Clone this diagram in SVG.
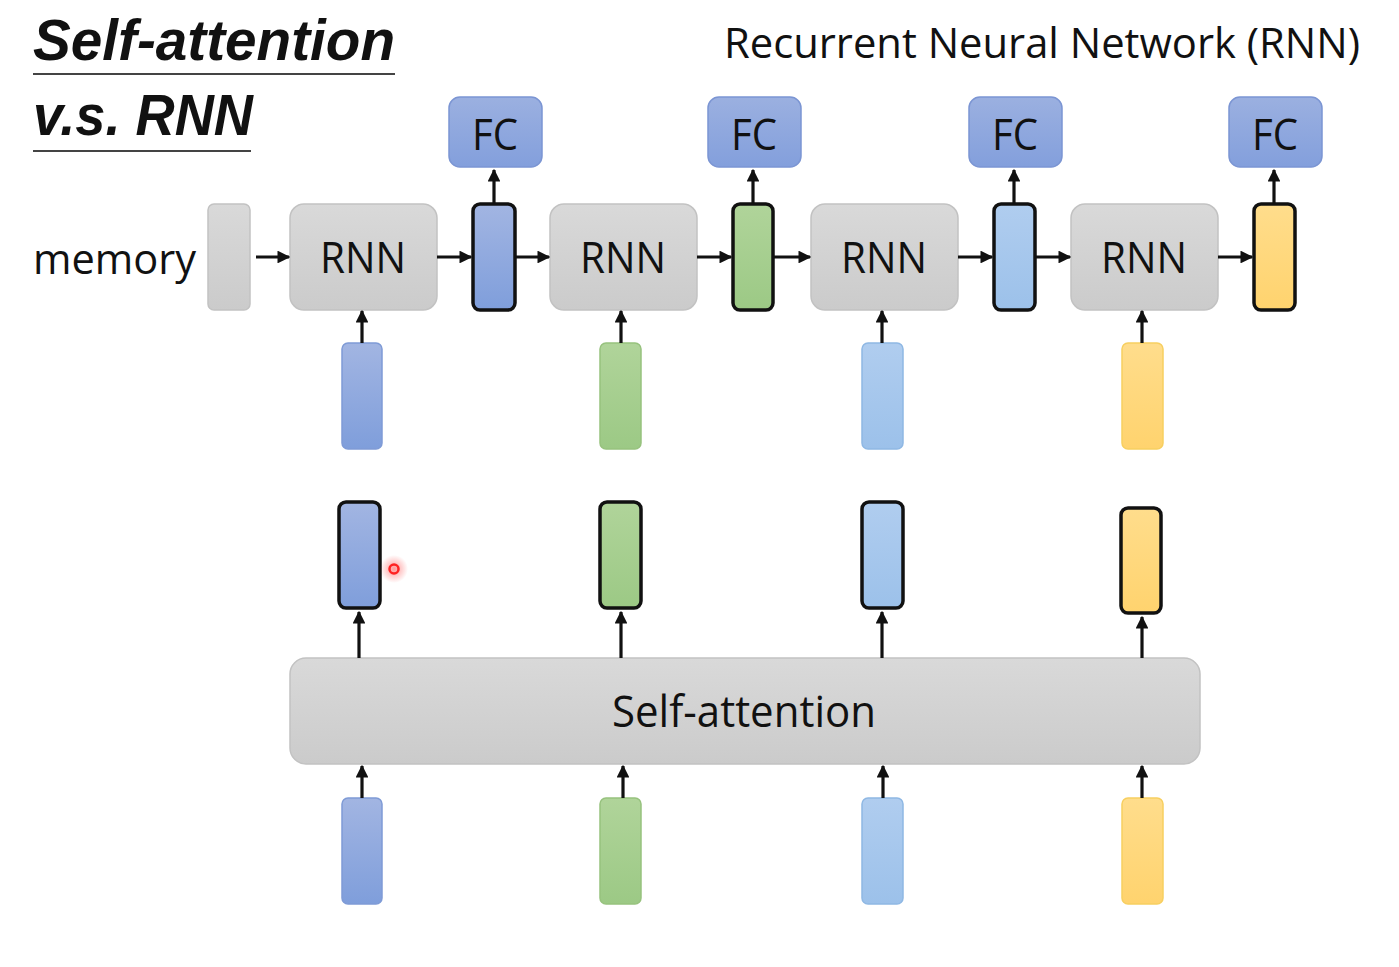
<svg xmlns="http://www.w3.org/2000/svg" width="1399" height="967" viewBox="0 0 1399 967">
<style>
text{font-family:"Open Sans","Liberation Sans",sans-serif;fill:#111;}
.lbl{font-size:44px;text-anchor:middle;}
.gray{fill:url(#gGray);stroke:#c2c2c2;stroke-width:1.5;}
.fc{fill:url(#gFC);stroke:#7b95d3;stroke-width:1.5;}
.blue{fill:url(#gBlue);stroke:#7f9bd6;stroke-width:1.5;}
.green{fill:url(#gGreen);stroke:#97c27e;stroke-width:1.5;}
.lblue{fill:url(#gLBlue);stroke:#8fb8e4;stroke-width:1.5;}
.yellow{fill:url(#gYellow);stroke:#f7cf60;stroke-width:1.5;}
.out{stroke:#111;stroke-width:3.5;}
.arr{stroke:#111;stroke-width:3.2;fill:none;marker-end:url(#ah);}
</style>
<defs>
<linearGradient id="gGray" x1="0" y1="0" x2="0" y2="1"><stop offset="0" stop-color="#d9d9d9"/><stop offset="1" stop-color="#cbcbcb"/></linearGradient>
<linearGradient id="gFC" x1="0" y1="0" x2="0" y2="1"><stop offset="0" stop-color="#9bb0e0"/><stop offset="1" stop-color="#839fdc"/></linearGradient>
<linearGradient id="gBlue" x1="0" y1="0" x2="0" y2="1"><stop offset="0" stop-color="#a2b5e2"/><stop offset="1" stop-color="#7f9edb"/></linearGradient>
<linearGradient id="gGreen" x1="0" y1="0" x2="0" y2="1"><stop offset="0" stop-color="#b0d49a"/><stop offset="1" stop-color="#9cc985"/></linearGradient>
<linearGradient id="gLBlue" x1="0" y1="0" x2="0" y2="1"><stop offset="0" stop-color="#b0cdef"/><stop offset="1" stop-color="#9cc1ea"/></linearGradient>
<linearGradient id="gYellow" x1="0" y1="0" x2="0" y2="1"><stop offset="0" stop-color="#ffdd8c"/><stop offset="1" stop-color="#ffd36e"/></linearGradient>
<radialGradient id="gGlow"><stop offset="0" stop-color="#ff3030" stop-opacity="0.5"/><stop offset="1" stop-color="#ff3030" stop-opacity="0"/></radialGradient>
<marker id="ah" viewBox="0 0 10 10" refX="9" refY="5" markerWidth="4" markerHeight="4" orient="auto" markerUnits="strokeWidth"><path d="M0,0 L10,5 L0,10 z" fill="#111"/></marker>
</defs>
<rect width="1399" height="967" fill="#fff"/>

<g id="title">
<text x="33" y="60" font-weight="bold" font-style="italic" font-size="58" textLength="362" lengthAdjust="spacingAndGlyphs" style="font-family:'Liberation Sans',sans-serif">Self-attention</text>
<line x1="33" y1="74" x2="395" y2="74" stroke="#444" stroke-width="2"/>
<text x="33" y="135" font-weight="bold" font-style="italic" font-size="58" textLength="220" lengthAdjust="spacingAndGlyphs" style="font-family:'Liberation Sans',sans-serif">v.s. RNN</text>
<line x1="33" y1="151" x2="251" y2="151" stroke="#444" stroke-width="2"/>
</g>
<g id="rnn-title"><text x="724" y="58" font-size="42" textLength="636" lengthAdjust="spacingAndGlyphs">Recurrent Neural Network (RNN)</text></g>
<g id="memory-label"><text x="33" y="274" font-size="42" textLength="163" lengthAdjust="spacingAndGlyphs">memory</text></g>

<g id="memory"><rect class="gray" x="208" y="204" width="42" height="106" rx="6"/></g>

<g id="rnn1"><rect class="gray" x="290" y="204" width="147" height="106" rx="14"/><text class="lbl" x="363" y="273" textLength="86" lengthAdjust="spacingAndGlyphs">RNN</text></g>
<g id="rnn2"><rect class="gray" x="550" y="204" width="147" height="106" rx="14"/><text class="lbl" x="623" y="273" textLength="86" lengthAdjust="spacingAndGlyphs">RNN</text></g>
<g id="rnn3"><rect class="gray" x="811" y="204" width="147" height="106" rx="14"/><text class="lbl" x="884" y="273" textLength="86" lengthAdjust="spacingAndGlyphs">RNN</text></g>
<g id="rnn4"><rect class="gray" x="1071" y="204" width="147" height="106" rx="14"/><text class="lbl" x="1144" y="273" textLength="86" lengthAdjust="spacingAndGlyphs">RNN</text></g>

<g id="h1"><rect class="blue out" x="473" y="204" width="42" height="106" rx="7"/></g>
<g id="h2"><rect class="green out" x="733" y="204" width="40" height="106" rx="7"/></g>
<g id="h3"><rect class="lblue out" x="994" y="204" width="41" height="106" rx="7"/></g>
<g id="h4"><rect class="yellow out" x="1254" y="204" width="41" height="106" rx="7"/></g>

<g id="fc1"><rect class="fc" x="449" y="97" width="93" height="70" rx="11"/><text class="lbl" x="495" y="150" font-size="40" textLength="46" lengthAdjust="spacingAndGlyphs">FC</text></g>
<g id="fc2"><rect class="fc" x="708" y="97" width="93" height="70" rx="11"/><text class="lbl" x="754" y="150" font-size="40" textLength="46" lengthAdjust="spacingAndGlyphs">FC</text></g>
<g id="fc3"><rect class="fc" x="969" y="97" width="93" height="70" rx="11"/><text class="lbl" x="1015" y="150" font-size="40" textLength="46" lengthAdjust="spacingAndGlyphs">FC</text></g>
<g id="fc4"><rect class="fc" x="1229" y="97" width="93" height="70" rx="11"/><text class="lbl" x="1275" y="150" font-size="40" textLength="46" lengthAdjust="spacingAndGlyphs">FC</text></g>

<g id="x1"><rect class="blue" x="342" y="343" width="40" height="106" rx="6"/></g>
<g id="x2"><rect class="green" x="600" y="343" width="41" height="106" rx="6"/></g>
<g id="x3"><rect class="lblue" x="862" y="343" width="41" height="106" rx="6"/></g>
<g id="x4"><rect class="yellow" x="1122" y="343" width="41" height="106" rx="6"/></g>

<g id="b1"><rect class="blue out" x="339" y="502" width="41" height="106" rx="7"/></g>
<g id="b2"><rect class="green out" x="600" y="502" width="41" height="106" rx="7"/></g>
<g id="b3"><rect class="lblue out" x="862" y="502" width="41" height="106" rx="7"/></g>
<g id="b4"><rect class="yellow out" x="1121" y="508" width="40" height="105" rx="7"/></g>

<g id="self-attention"><rect class="gray" x="290" y="658" width="910" height="106" rx="16"/><text class="lbl" x="744" y="727" textLength="264" lengthAdjust="spacingAndGlyphs">Self-attention</text></g>

<g id="y1"><rect class="blue" x="342" y="798" width="40" height="106" rx="6"/></g>
<g id="y2"><rect class="green" x="600" y="798" width="41" height="106" rx="6"/></g>
<g id="y3"><rect class="lblue" x="862" y="798" width="41" height="106" rx="6"/></g>
<g id="y4"><rect class="yellow" x="1122" y="798" width="41" height="106" rx="6"/></g>

<g id="connectors">
<line class="arr" x1="256" y1="257" x2="289" y2="257"/>
<line class="arr" x1="437" y1="257" x2="471" y2="257"/>
<line class="arr" x1="516" y1="257" x2="549" y2="257"/>
<line class="arr" x1="697" y1="257" x2="731" y2="257"/>
<line class="arr" x1="774" y1="257" x2="810" y2="257"/>
<line class="arr" x1="958" y1="257" x2="992" y2="257"/>
<line class="arr" x1="1036" y1="257" x2="1070" y2="257"/>
<line class="arr" x1="1218" y1="257" x2="1252" y2="257"/>

<line class="arr" x1="494" y1="203" x2="494" y2="170"/>
<line class="arr" x1="753" y1="203" x2="753" y2="170"/>
<line class="arr" x1="1014" y1="203" x2="1014" y2="170"/>
<line class="arr" x1="1274" y1="203" x2="1274" y2="170"/>

<line class="arr" x1="362" y1="343" x2="362" y2="311"/>
<line class="arr" x1="621" y1="343" x2="621" y2="311"/>
<line class="arr" x1="882" y1="343" x2="882" y2="311"/>
<line class="arr" x1="1142" y1="343" x2="1142" y2="311"/>

<line class="arr" x1="359" y1="658" x2="359" y2="612"/>
<line class="arr" x1="621" y1="658" x2="621" y2="612"/>
<line class="arr" x1="882" y1="658" x2="882" y2="612"/>
<line class="arr" x1="1142" y1="658" x2="1142" y2="617"/>

<line class="arr" x1="362" y1="798" x2="362" y2="766"/>
<line class="arr" x1="623" y1="798" x2="623" y2="766"/>
<line class="arr" x1="883" y1="798" x2="883" y2="766"/>
<line class="arr" x1="1142" y1="798" x2="1142" y2="766"/>
</g>

<g id="pointer">
<circle cx="394" cy="569" r="14" fill="url(#gGlow)"/>
<circle cx="394" cy="569" r="4.5" fill="none" stroke="#f22" stroke-width="2.5"/>
</g>
</svg>
